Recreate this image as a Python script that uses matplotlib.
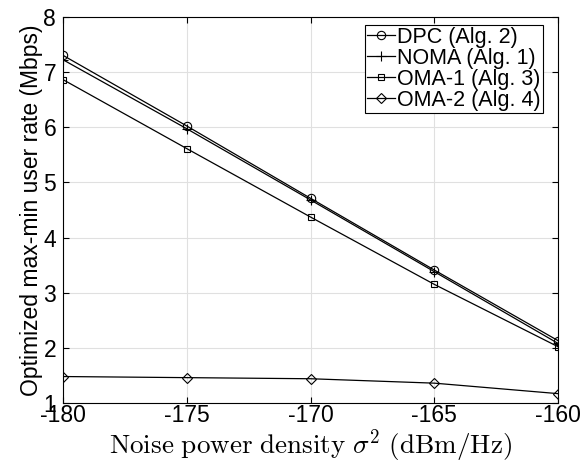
import numpy as np
import matplotlib
matplotlib.use('Agg')
import matplotlib.pyplot as plt

plt.rcParams['font.family'] = ['Liberation Sans', 'DejaVu Sans']
plt.rcParams['mathtext.fontset'] = 'cm'
plt.rcParams['axes.unicode_minus'] = False

noise = [-180, -175, -170, -165, -160]
dpc = [7.30, 6.02, 4.71, 3.41, 2.13]
noma = [7.22, 5.97, 4.68, 3.38, 2.08]
oma1 = [6.86, 5.61, 4.37, 3.15, 2.02]
oma2 = [1.48, 1.46, 1.44, 1.36, 1.17]

fig = plt.figure(figsize=(5.85, 4.67), dpi=100)
ax = fig.add_axes([0.108, 0.137, 0.846, 0.827])

ax.plot(noise, dpc, 'k-o', mfc='none', ms=6, lw=0.9, mew=0.8, label='DPC (Alg. 2)')
ax.plot(noise, noma, 'k-+', ms=7, lw=0.9, mew=0.8, label='NOMA (Alg. 1)')
ax.plot(noise, oma1, 'k-s', mfc='none', ms=5, lw=0.9, mew=0.8, label='OMA-1 (Alg. 3)')
ax.plot(noise, oma2, 'k-D', mfc='none', ms=5, lw=0.9, mew=0.8, label='OMA-2 (Alg. 4)')

ax.set_xlim(-180, -160)
ax.set_ylim(1, 8)
ax.set_xticks([-180, -175, -170, -165, -160])
ax.set_yticks(range(1, 9))
ax.grid(True, color='#e0e0e0', lw=0.8)
ax.set_axisbelow(True)
ax.tick_params(direction='in', top=True, right=True, labelsize=16.5, length=4)
ax.tick_params(axis='x', pad=1)
ax.tick_params(axis='y', pad=5)
for s in ax.spines.values():
    s.set_linewidth(0.8)

ax.set_xlabel(r'$\mathrm{Noise\ power\ density}\ \sigma^2\ \mathrm{(dBm/Hz)}$', fontsize=19.5, labelpad=0)
ax.set_ylabel('Optimized max-min user rate (Mbps)', fontsize=16.5, labelpad=0)

leg = ax.legend(loc='upper right', fontsize=15.5, handlelength=1.3, handletextpad=0.12,
                borderpad=0.1, labelspacing=0.0, borderaxespad=0.0,
                bbox_to_anchor=(0.97, 0.98), fancybox=False,
                framealpha=1, edgecolor='k')
leg.get_frame().set_linewidth(0.8)

fig.savefig('out.png', dpi=100)
